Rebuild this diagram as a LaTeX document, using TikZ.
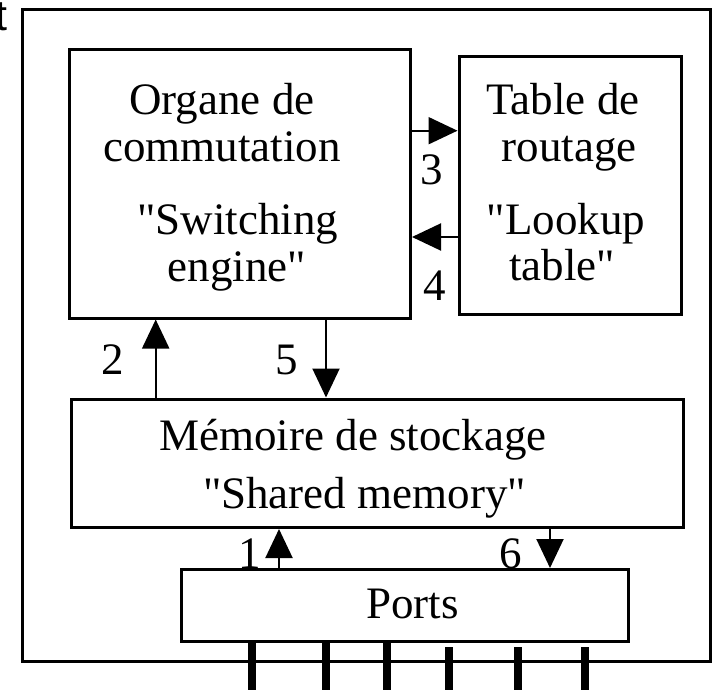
\documentclass[tikz,border=0pt]{standalone}
\usepackage{fontspec}
\setmainfont{Liberation Serif}[Ligatures=TeXOff]
\newfontfamily\tsans{Liberation Sans}
\usetikzlibrary{arrows.meta}
\begin{document}
\begin{tikzpicture}[x=1pt,y=-1pt,
  box/.style={draw,line width=3pt,inner sep=0pt,rectangle},
  txt/.style={anchor=base,inner sep=0pt,font=\fontsize{45}{46}\selectfont},
  arr/.style={line width=2pt,-{Triangle[length=29pt,width=27pt]}},
  leg/.style={line width=8pt}]
\useasboundingbox (0,0) rectangle (713,690);
% boxes
\node[box,minimum width=688pt,minimum height=651pt] (outer) at (366,335.5) {};
\node[box,minimum width=341.5pt,minimum height=268pt] (switch) at (239.75,184) {};
\node[box,minimum width=222pt,minimum height=258pt] (table) at (570,185.5) {};
\node[box,minimum width=612pt,minimum height=128.5pt] (memory) at (377.5,463.25) {};
\node[box,minimum width=447pt,minimum height=71.5pt] (ports) at (404.5,605.25) {};
% texts
\node[txt] (s1) at (222,115) {Organe de};
\node[txt] (s2) at (222,161.7) {commutation};
\node[txt] (s3) at (238,235) {"Switching};
\node[txt] (s4) at (237,281.7) {engine"};
\node[txt] (t1) at (563,115) {Table de};
\node[txt] (t2) at (569,161.7) {routage};
\node[txt] (t3) at (566,235) {"Lookup};
\node[txt] (t4) at (562,280) {table"};
\node[txt] (m1) at (353,450) {Mémoire de stockage};
\node[txt] (m2) at (364.5,508) {"Shared memory"};
\node[txt] (p1) at (412.5,618) {Ports};
% labels
\node[txt] (l3) at (432,185) {3};
\node[txt] (l4) at (435,300) {4};
\node[txt] (l2) at (113,374) {2};
\node[txt] (l5) at (287,374) {5};
\node[txt] (l1) at (250,568) {1};
\node[txt] (l6) at (511,568) {6};
\node[anchor=base east,inner sep=0pt,font=\tsans\fontsize{43}{46}\selectfont] (tt) at (8,31) {t};
% connectors
\coordinate (y3) at (0,130.7);
\coordinate (y4) at (0,237);
\coordinate (x2) at (155.7,0);
\coordinate (x5) at (326,0);
\coordinate (x1) at (279,0);
\coordinate (x6) at (550,0);
\draw[arr] (switch.east |- y3) -- (table.west |- y3);
\draw[arr] (table.west |- y4) -- (switch.east |- y4);
\draw[arr] (memory.north -| x2) -- (switch.south -| x2);
\draw[arr] (switch.south -| x5) -- (memory.north -| x5);
\draw[arr] (ports.north -| x1) -- (memory.south -| x1);
\draw[arr] (memory.south -| x6) -- (ports.north -| x6);
% port legs
\foreach \x/\y in {252/643,326/643,387/643,449/647,518/647,585/647}
  \draw[leg] (\x,\y) -- (\x,690);
\end{tikzpicture}
\end{document}
